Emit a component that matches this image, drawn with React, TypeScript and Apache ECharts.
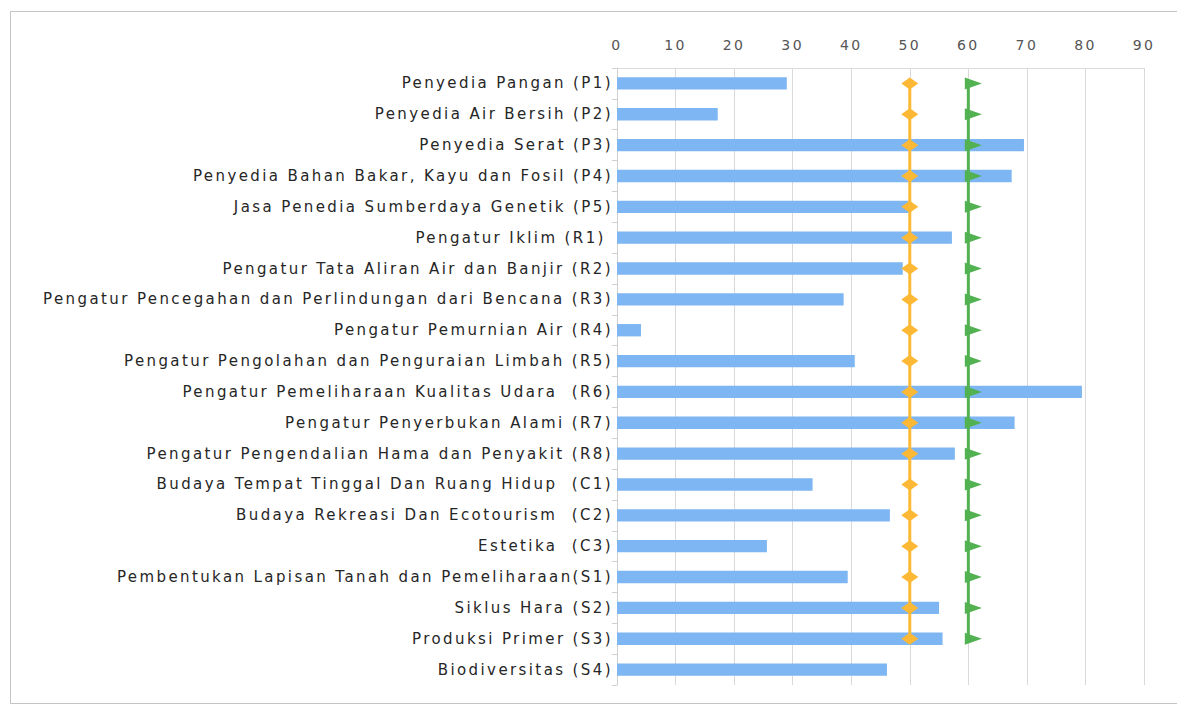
import React, { useEffect, useRef } from "react";
import * as echarts from "echarts";

const categories = [
  "Penyedia Pangan (P1)",
  "Penyedia Air Bersih (P2)",
  "Penyedia Serat (P3)",
  "Penyedia Bahan Bakar, Kayu dan Fosil (P4)",
  "Jasa Penedia Sumberdaya Genetik (P5)",
  "Pengatur Iklim (R1) ",
  "Pengatur Tata Aliran Air dan Banjir (R2)",
  "Pengatur Pencegahan dan Perlindungan dari Bencana (R3)",
  "Pengatur Pemurnian Air (R4)",
  "Pengatur Pengolahan dan Penguraian Limbah (R5)",
  "Pengatur Pemeliharaan Kualitas Udara  (R6)",
  "Pengatur Penyerbukan Alami (R7)",
  "Pengatur Pengendalian Hama dan Penyakit (R8)",
  "Budaya Tempat Tinggal Dan Ruang Hidup  (C1)",
  "Budaya Rekreasi Dan Ecotourism  (C2)",
  "Estetika  (C3)",
  "Pembentukan Lapisan Tanah dan Pemeliharaan(S1)",
  "Siklus Hara (S2)",
  "Produksi Primer (S3)",
  "Biodiversitas (S4)",
];

const barValues = [
  29, 17.2, 69.5, 67.4, 49.8, 57.2, 48.8, 38.7, 4.1, 40.6,
  79.4, 67.9, 57.7, 33.4, 46.6, 25.6, 39.4, 55, 55.6, 46.1,
];

// reference lines (not defined for the last category)
const orangeValues = [
  50, 50, 50, 50, 50, 50, 50, 50, 50, 50,
  50, 50, 50, 50, 50, 50, 50, 50, 50, null,
];
const greenValues = [
  60, 60, 60, 60, 60, 60, 60, 60, 60, 60,
  60, 60, 60, 60, 60, 60, 60, 60, 60, null,
];

const xTicks = { min: 0, max: 90, interval: 10 };

const FONT = "'DejaVu Sans', 'Open Sans', sans-serif";

export default function App() {
  const ref = useRef<HTMLDivElement>(null);

  useEffect(() => {
    if (!ref.current) return;
    const chart = echarts.init(ref.current, undefined, { renderer: "svg" });

    const toPairs = (vals: (number | null)[]) =>
      vals
        .map((v, i) => (v == null ? null : [v, categories[i]]))
        .filter((p) => p !== null);

    chart.setOption({
      animation: false,
      backgroundColor: "#ffffff",
      graphic: [
        {
          type: "rect",
          shape: { x: 10.5, y: 11.5, width: 1200, height: 692 },
          style: { fill: "none", stroke: "#c4c4c4", lineWidth: 1 },
          silent: true,
        },
      ],
      grid: { left: 617, right: 33, top: 68, bottom: 21, containLabel: false },
      xAxis: {
        type: "value",
        position: "top",
        min: xTicks.min,
        max: xTicks.max,
        interval: xTicks.interval,
        axisLine: { show: true, lineStyle: { color: "#dcdcdc" } },
        axisTick: { show: false },
        axisLabel: {
          color: "#555",
          fontFamily: FONT,
          fontSize: 14,
          margin: 16,
        },
        splitLine: { show: true, lineStyle: { color: "#d9d9d9", width: 1 } },
      },
      yAxis: {
        type: "category",
        inverse: true,
        data: categories,
        axisLine: { show: true, lineStyle: { color: "#cfcfcf" } },
        axisTick: { show: true, length: 5, lineStyle: { color: "#cfcfcf" } },
        axisLabel: {
          color: "#262626",
          fontFamily: FONT,
          fontSize: 15,
          margin: 4,
        },
        splitLine: { show: false },
      },
      series: [
        {
          type: "bar",
          data: barValues,
          barWidth: "40%",
          itemStyle: { color: "#7DB6F2" },
        },
        {
          type: "line",
          data: toPairs(orangeValues),
          lineStyle: { color: "#FDB935", width: 3 },
          itemStyle: { color: "#FDB935" },
          symbol: "diamond",
          symbolSize: [17, 12],
          z: 3,
        },
        {
          type: "line",
          data: toPairs(greenValues),
          lineStyle: { color: "#52B150", width: 3 },
          itemStyle: { color: "#52B150" },
          symbol: "triangle",
          symbolSize: [12, 17],
          symbolRotate: -90,
          symbolOffset: [5, 0],
          z: 4,
        },
      ],
    });

    return () => chart.dispose();
  }, []);

  return (
    <>
      <style>{`#chart-root svg text { letter-spacing: 2.4px; }`}</style>
      <div
        id="chart-root"
        ref={ref}
        style={{ position: "fixed", left: 0, top: 0, width: 1177, height: 706 }}
      />
    </>
  );
}
